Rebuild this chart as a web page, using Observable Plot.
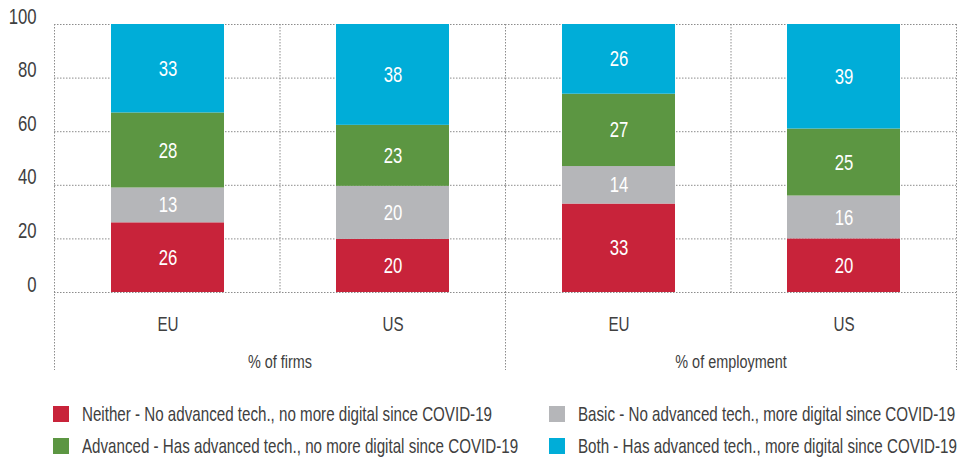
<!DOCTYPE html>
<html>
<head>
<meta charset="utf-8">
<script src="https://cdn.jsdelivr.net/npm/d3@7"></script>
<script src="https://cdn.jsdelivr.net/npm/@observablehq/plot@0.6"></script>
<style>
  html, body { margin: 0; padding: 0; background: #fff; }
  body { width: 961px; height: 459px; overflow: hidden; font-family: "Liberation Sans", Arial, sans-serif; }
  #chart svg { display: block; }
  #legend { position: relative; width: 961px; height: 79px; color: #404040; font-size: 21px; }
  .item { position: absolute; display: flex; align-items: center; height: 16px; white-space: nowrap; }
  .sw { width: 16px; height: 16px; margin-right: 13px; flex: none; }
  .item span { display: inline-block; transform-origin: 0 50%; }
</style>
</head>
<body>
<div id="chart"></div>
<div id="legend"></div>
<script>
const groups = ["% of firms", "% of employment"];
const regions = ["EU", "US"];
const series = [
  "Neither - No advanced tech., no more digital since COVID-19",
  "Basic - No advanced tech., more digital since COVID-19",
  "Advanced - Has advanced tech., no more digital since COVID-19",
  "Both - Has advanced tech., more digital since COVID-19"
];
const colors = ["#C8233A", "#B5B6B9", "#5C9642", "#00ADD8"];
// values per series order: Neither, Basic, Advanced, Both
const firmsEU = [26, 13, 28, 33];
const firmsUS = [20, 20, 23, 38];
const employmentEU = [33, 14, 27, 26];
const employmentUS = [20, 16, 25, 39];
const yTicks = [0, 20, 40, 60, 80, 100];

(function () {
const table = [
  [groups[0], regions[0], firmsEU],
  [groups[0], regions[1], firmsUS],
  [groups[1], regions[0], employmentEU],
  [groups[1], regions[1], employmentUS]
];
const rows = table.flatMap(([group, region, vals]) =>
  vals.map((value, i) => ({group, region, series: series[i], value})));

const font = '"Liberation Sans", Arial, sans-serif';
const W = 961, H = 380;
const condense = 0.76; // emulate the reference's condensed typeface

const plot = Plot.plot({
  width: W, height: H,
  marginLeft: 53, marginRight: 5, marginTop: 24, marginBottom: 88,
  style: {fontFamily: font, color: "#404040", background: "#fff", overflow: "visible"},
  fx: {domain: groups, padding: 0, label: null},
  x: {domain: regions, paddingInner: 0.5, paddingOuter: 0.25, label: null},
  y: {domain: [0, 1], label: null},
  color: {domain: series, range: colors},
  marks: [
    Plot.gridY({ticks: yTicks.map(d => d / 100), stroke: "#8c8c8c", strokeOpacity: 1, strokeDasharray: "1.5 1.5"}),
    Plot.barY(rows, Plot.stackY({fx: "group", x: "region", y: "value", fill: "series", order: series, offset: "normalize"})),
    Plot.text(rows, Plot.stackY({fx: "group", x: "region", y: "value", z: "series", order: series, offset: "normalize",
      text: d => String(d.value), fill: "white", fontSize: 22})),
    Plot.axisY({ticks: yTicks.map(d => d / 100), tickFormat: d => String(Math.round(d * 100)), tickSize: 0, tickPadding: 18, dy: -8, fontSize: 22, label: null}),
    Plot.axisX({tickSize: 0, tickPadding: 24, fontSize: 20, label: null}),
    Plot.axisFx({anchor: "bottom", tickSize: 0, tickPadding: 62, fontSize: 19, label: null})
  ]
});
document.getElementById("chart").appendChild(plot);

// condense every svg text horizontally around its own anchor
plot.querySelectorAll("text").forEach(t => {
  const xa = t.getAttribute("x");
  const x = xa !== null && isFinite(+xa) ? +xa : 0;
  const tr = t.getAttribute("transform") || "";
  t.setAttribute("transform", `${tr} translate(${x},0) scale(${condense},1) translate(${-x},0)`.trim());
});

// vertical dotted separators, positioned from Plot's own fx and y scales
const fxs = plot.scale("fx"), ys = plot.scale("y");
const svg = d3.select(plot);
const yTop = ys.apply(1), yBottom = ys.apply(0);
const vg = svg.append("g").attr("stroke", "#8c8c8c").attr("stroke-dasharray", "1.5 1.5").attr("fill", "none");
const edges = new Set();
groups.forEach(g => {
  const x0 = fxs.apply(g), bw = fxs.bandwidth;
  edges.add(x0); edges.add(x0 + bw);
  vg.append("line").attr("x1", x0 + bw / 2 + 0.5).attr("x2", x0 + bw / 2 + 0.5).attr("y1", yTop).attr("y2", yBottom);
});
[...edges].forEach(x => {
  vg.append("line").attr("x1", x + 0.5).attr("x2", x + 0.5).attr("y1", yTop).attr("y2", H - 10);
});

// legend
const legend = d3.select("#legend");
const pos = [[53, 26], [549, 26], [53, 58], [549, 58]];
const spans = [];
[0, 1, 2, 3].forEach((si, k) => {
  const it = legend.append("div").attr("class", "item").style("left", pos[k][0] + "px").style("top", pos[k][1] + "px");
  it.append("div").attr("class", "sw").style("background", colors[si]);
  spans.push(it.append("span").text(series[si]).node());
});
const w0 = spans[0].getBoundingClientRect().width;
const s = 410 / w0;
spans.forEach(sp => sp.style.transform = `scaleX(${s})`);
})();
</script>
</body>
</html>
